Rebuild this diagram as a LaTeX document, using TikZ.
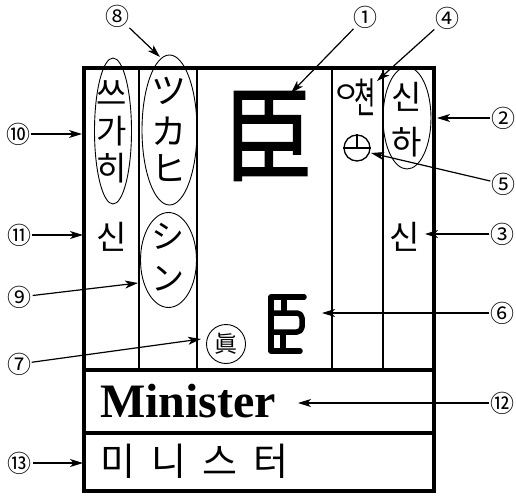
\documentclass[tikz,border=0pt]{standalone}
\usepackage{fontspec}
\setmainfont{Liberation Serif}
\newfontfamily\kr{Noto Sans CJK KR}
\newfontfamily\krb[FakeBold=1.6]{Noto Sans CJK KR}
\usetikzlibrary{arrows.meta,shapes.geometric}
\tikzset{
  frame/.style={line width=4pt},
  divider/.style={line width=1.4pt},
  lbl/.style={font=\kr\fontsize{24}{24}\selectfont, inner sep=0.5pt},
  arr/.style={line width=1.2pt, -{Stealth[length=13pt,width=8pt,inset=3.5pt]}},
  ell/.style={draw, ellipse, line width=0.9pt, inner sep=0pt},
  kch/.style={font=\kr\fontsize{33}{33}\selectfont, inner sep=0pt},
  glyph/.style={line width=5.5pt, line cap=round, line join=round},
}
\begin{document}
\begin{tikzpicture}[x=1pt,y=-1pt]
\useasboundingbox (0,0) rectangle (516,497);
% thin column dividers
\foreach \xx in {139,197,332,383} \draw[divider] (\xx,68) -- (\xx,370);
% outer frame and rows
\draw[frame] (84,68) rectangle (434,491);
\draw[frame] (84,370) -- (434,370);
\draw[frame] (84,433) -- (434,433);

% column 1
\node[ell, minimum width=37pt, minimum height=146pt] (e1) at (113,131) {};
\node[kch] (k1) at (112,93) {쓰};
\node[kch] (k2) at (112,131) {가};
\node[kch] (k3) at (112,168) {히};
\node[kch] (k4) at (112,237) {신};
% column 2
\node[ell, minimum width=55pt, minimum height=150pt] (e2) at (169.5,130) {};
\node[kch, font=\kr\fontsize{35}{35}\selectfont] (j1) at (169,91) {ツ};
\node[kch, font=\kr\fontsize{35}{35}\selectfont] (j2) at (169,131) {カ};
\node[kch, font=\kr\fontsize{35}{35}\selectfont] (j3) at (169,168) {ヒ};
\node[ell, minimum width=56pt, minimum height=95pt] (e3) at (168.5,260) {};
\node[kch, font=\kr\fontsize{33}{33}\selectfont] (j4) at (168,236) {シ};
\node[kch, font=\kr\fontsize{33}{33}\selectfont] (j5) at (168,279) {ン};
% main character
\node[inner sep=0pt] (main) at (268,136) {\scalebox{1}[1.15]{\krb\fontsize{90}{90}\selectfont 臣}};
% variant glyph
\coordinate (vg) at (287,324);
\draw[glyph] (304,297) -- (271,297) -- (271,351) -- (300,351);
\draw[glyph, rounded corners=5pt] (271,313) -- (302,313) -- (302,332) -- (271,332);
\draw[glyph] (284,297) -- (284,313);
\draw[glyph] (283,334) -- (283,349);
% circled 眞
\node[draw, circle, line width=0.9pt, minimum size=39pt, inner sep=0pt] (zc) at (226,344) {};
\node[inner sep=0pt, font=\kr\fontsize{23}{23}\selectfont] (zh) at (226,344) {眞};
% column 4
\node[anchor=base west, inner sep=0pt, font=\kr] (o1) at (340,114)
  {\raisebox{10pt}{\makebox[12pt]{\fontsize{30}{30}\selectfont ㅇ}}\hspace{2pt}\scalebox{0.55}[1]{\fontsize{42}{42}\selectfont 쳔}};
\node[draw, circle, line width=1.3pt, minimum size=26pt, inner sep=0pt] (sym) at (357,148) {};
\draw[line width=1.3pt] (sym.west) -- (sym.east);
\draw[line width=1.3pt] (sym.north) -- (sym.center);
% column 5
\node[ell, minimum width=48pt, minimum height=102pt] (e4) at (407,118) {};
\node[kch] (k5) at (407,97) {신};
\node[kch] (k6) at (407,142) {하};
\node[kch] (k7) at (405,237) {신};
% bottom rows
\node[anchor=base west, inner sep=0pt, font=\bfseries\fontsize{48}{48}\selectfont] (mn) at (100,417) {Minister};
\node[anchor=west, inner sep=0pt, font=\kr\fontsize{38}{38}\selectfont] (mk) at (100,461) {미\hspace{16pt}니\hspace{16pt}스\hspace{16pt}터};

% labels
\node[lbl] (n1) at (365,17) {①};
\node[lbl] (n2) at (503,118) {②};
\node[lbl] (n3) at (502,234) {③};
\node[lbl] (n4) at (447,18) {④};
\node[lbl] (n5) at (503,184) {⑤};
\node[lbl] (n6) at (502,313) {⑥};
\node[lbl] (n7) at (19,364) {⑦};
\node[lbl] (n8) at (117,16) {⑧};
\node[lbl] (n9) at (20,297) {⑨};
\node[lbl] (n10) at (18,134) {⑩};
\node[lbl] (n11) at (19,235) {⑪};
\node[lbl] (n12) at (502,403) {⑫};
\node[lbl] (n13) at (20,463) {⑬};
% arrow tips
\coordinate (t1) at (291,93);
\coordinate (t2) at (437,118);
\coordinate (t3) at (425,234);
\coordinate (t4) at (377,81);
\coordinate (t5) at (371,153);
\coordinate (t6) at (322,313);
\coordinate (t7) at (201,339);
\coordinate (t8) at (160,57);
\coordinate (t9) at (138,283);
\coordinate (t10) at (82,134);
\coordinate (t11) at (83,235);
\coordinate (t12) at (298,403);
\coordinate (t13) at (83,463);
\foreach \i in {1,...,13} \draw[arr] (n\i) -- (t\i);
\end{tikzpicture}
\end{document}
